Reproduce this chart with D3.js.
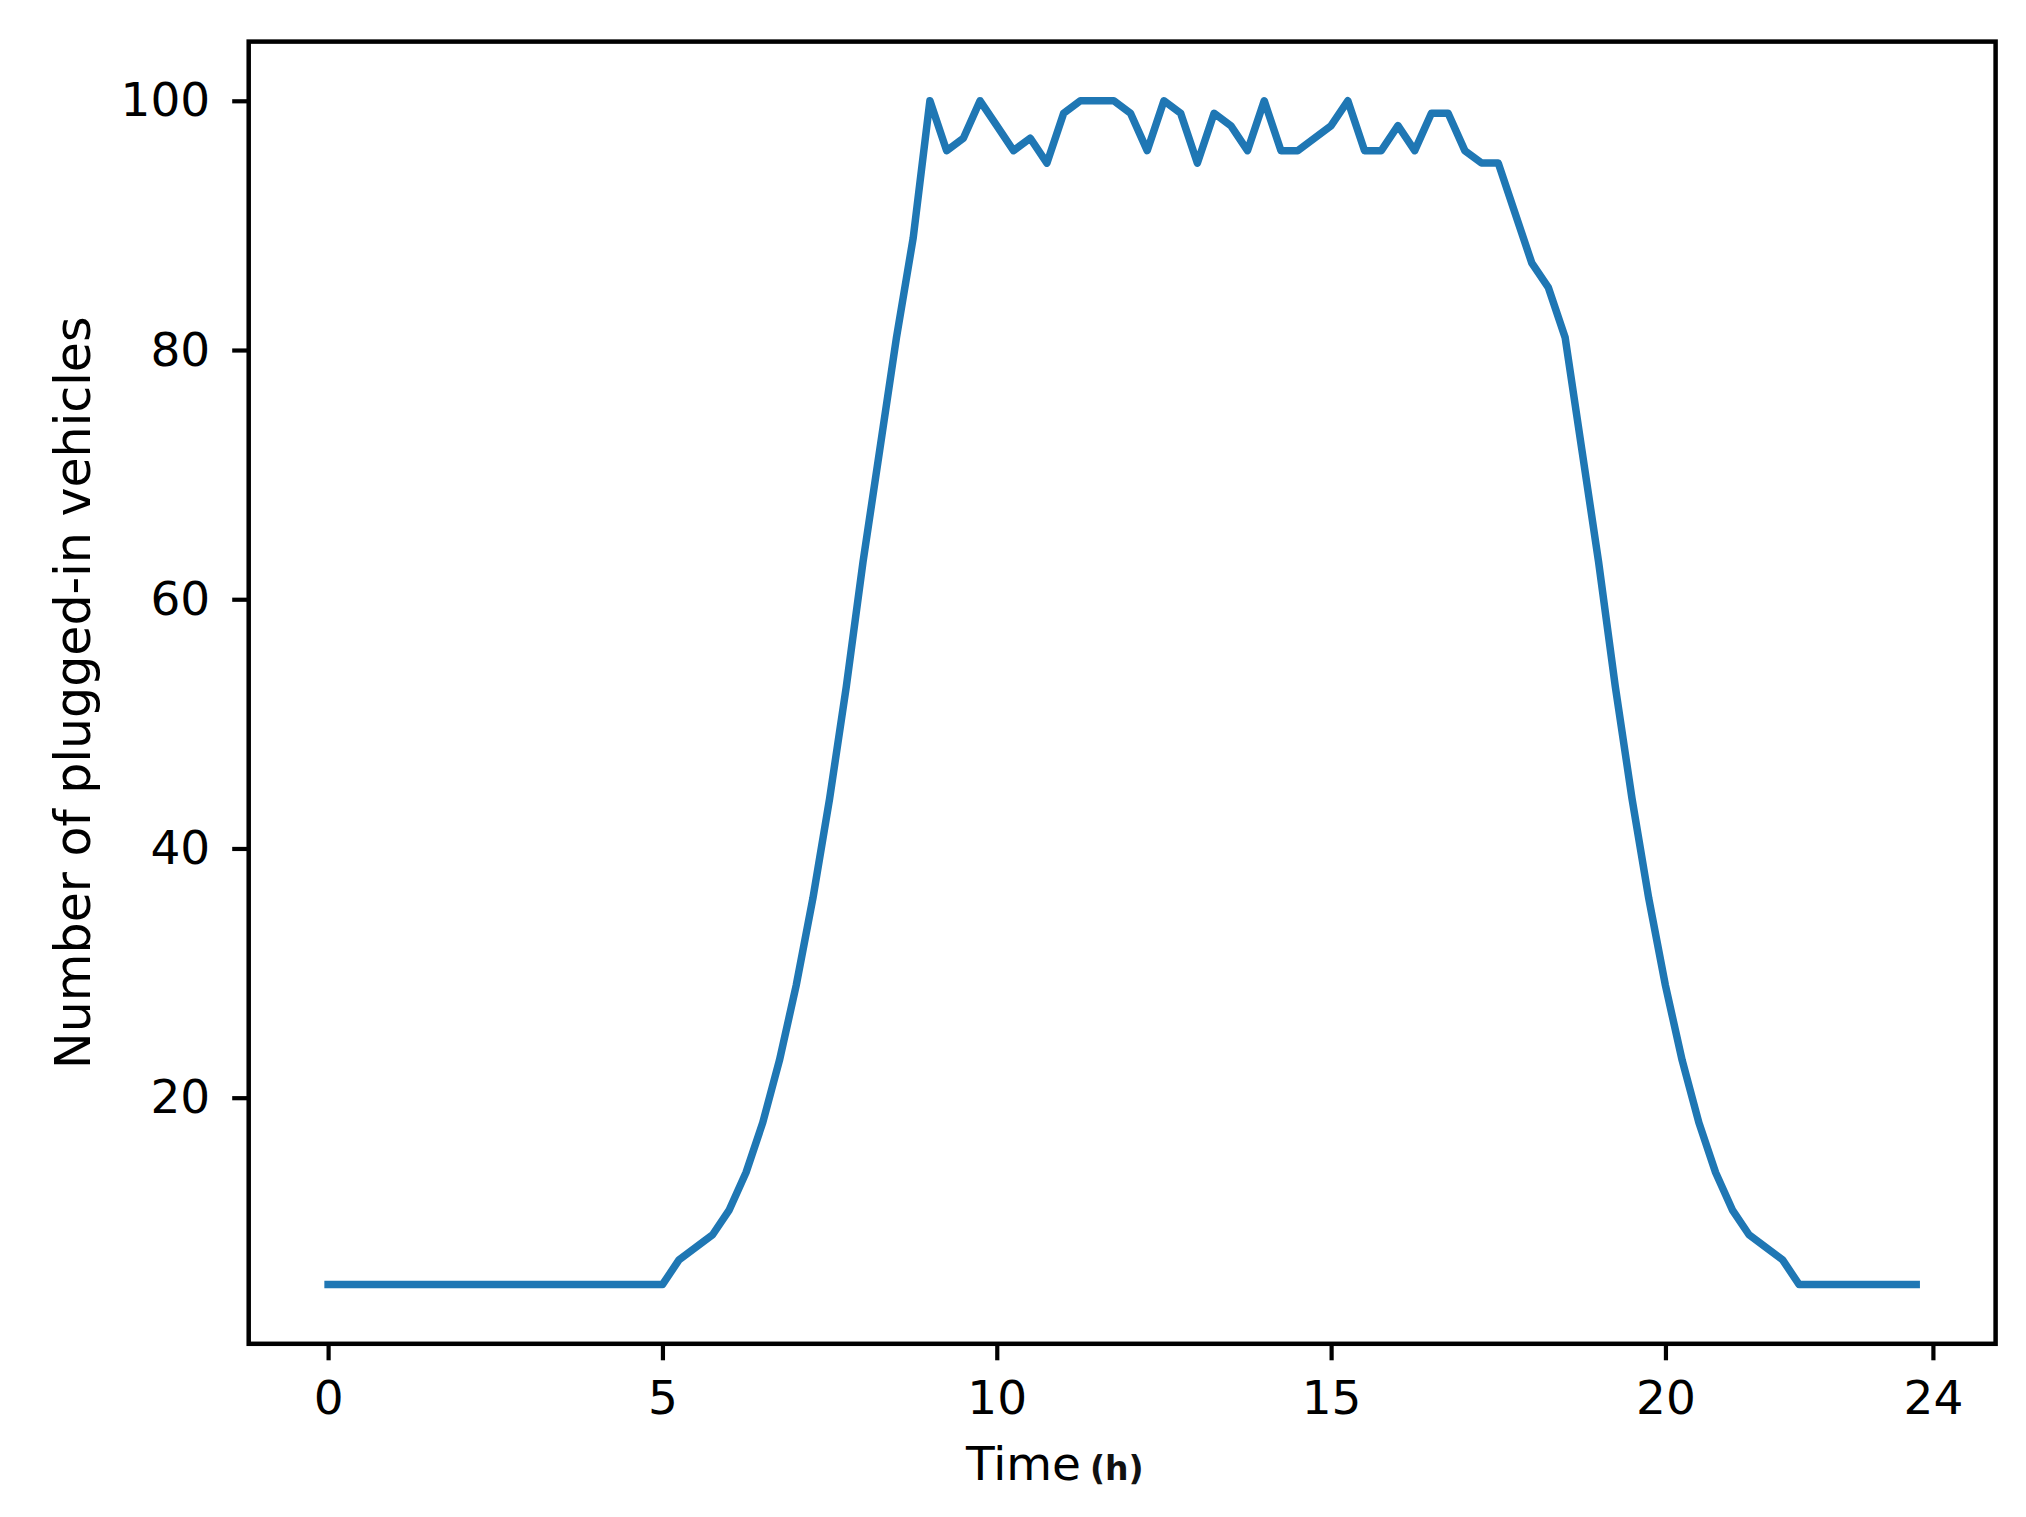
<!DOCTYPE html>
<html>
<head>
<meta charset="utf-8">
<script src="https://cdn.jsdelivr.net/npm/d3@7"></script>
<style>
  body { margin: 0; background: white; }
  svg text { font-family: "DejaVu Sans", sans-serif; }
</style>
</head>
<body>
<div id="svg-container"></div>
<script>
// DATA  (15 minute samples, 0h .. 23.75h)
var hours = [0, 0.25, 0.5, 0.75, 1, 1.25, 1.5, 1.75, 2, 2.25, 2.5, 2.75,
             3, 3.25, 3.5, 3.75, 4, 4.25, 4.5, 4.75, 5, 5.25, 5.5, 5.75,
             6, 6.25, 6.5, 6.75, 7, 7.25, 7.5, 7.75, 8, 8.25, 8.5, 8.75,
             9, 9.25, 9.5, 9.75, 10, 10.25, 10.5, 10.75, 11, 11.25, 11.5, 11.75,
             12, 12.25, 12.5, 12.75, 13, 13.25, 13.5, 13.75, 14, 14.25, 14.5, 14.75,
             15, 15.25, 15.5, 15.75, 16, 16.25, 16.5, 16.75, 17, 17.25, 17.5, 17.75,
             18, 18.25, 18.5, 18.75, 19, 19.25, 19.5, 19.75, 20, 20.25, 20.5, 20.75,
             21, 21.25, 21.5, 21.75, 22, 22.25, 22.5, 22.75, 23, 23.25, 23.5, 23.75];

var plugged = [5, 5, 5, 5, 5, 5, 5, 5, 5, 5, 5, 5,
               5, 5, 5, 5, 5, 5, 5, 5, 5, 7, 8, 9,
               11, 14, 18, 23, 29, 36, 44, 53, 63, 72, 81, 89,
               100, 96, 97, 100, 98, 96, 97, 95, 99, 100, 100, 100,
               99, 96, 100, 99, 95, 99, 98, 96, 100, 96, 96, 97,
               98, 100, 96, 96, 98, 96, 99, 99, 96, 95, 95, 91,
               87, 85, 81, 72, 63, 53, 44, 36, 29, 23, 18, 14,
               11, 9, 8, 7, 5, 5, 5, 5, 5, 5, 5, 5];

var xTicks = [0, 5, 10, 15, 20, 24];
var yTicks = [20, 40, 60, 80, 100];

var width = 2026, height = 1517;
var frame = {left: 248.7, right: 1995.6, top: 41.6, bottom: 1343.8};
var fontSize = 47;

// matplotlib style 5% margins around the data
function padded(ext) {
  var m = (ext[1] - ext[0]) * 0.05;
  return [ext[0] - m, ext[1] + m];
}

var x = d3.scaleLinear()
  .domain(padded(d3.extent(hours)))
  .range([frame.left, frame.right]);

var y = d3.scaleLinear()
  .domain(padded(d3.extent(plugged)))
  .range([frame.bottom, frame.top]);

var svg = d3.select("#svg-container")
  .append("svg")
  .attr("width", width)
  .attr("height", height);

var data = hours.map(function(h, i) { return {t: h, v: plugged[i]}; });

var line = d3.line()
  .x(function(d) { return x(d.t); })
  .y(function(d) { return y(d.v); });

svg.append("path")
  .datum(data)
  .attr("d", line)
  .attr("fill", "none")
  .attr("stroke", "#1f77b4")
  .attr("stroke-width", 7.5)
  .attr("stroke-linejoin", "round")
  .attr("stroke-linecap", "square");

// AXES
var xAxis = svg.append("g")
  .attr("transform", "translate(0," + frame.bottom + ")")
  .call(d3.axisBottom(x).tickValues(xTicks).tickSize(16.5).tickPadding(20.5));

var yAxis = svg.append("g")
  .attr("transform", "translate(" + frame.left + ",0)")
  .call(d3.axisLeft(y).tickValues(yTicks).tickSize(16.5).tickPadding(22));

[xAxis, yAxis].forEach(function(g) {
  g.select(".domain").remove();
  g.selectAll(".tick line").attr("stroke", "black").attr("stroke-width", 4.2);
  g.selectAll(".tick text")
    .attr("fill", "black")
    .style("font-size", fontSize + "px")
    .style("font-family", "DejaVu Sans, sans-serif");
});

// frame
svg.append("rect")
  .attr("x", frame.left)
  .attr("y", frame.top)
  .attr("width", frame.right - frame.left)
  .attr("height", frame.bottom - frame.top)
  .attr("fill", "none")
  .attr("stroke", "black")
  .attr("stroke-width", 4.5);

// LABELS
svg.append("text")
  .attr("transform", "translate(90," + ((frame.top + frame.bottom) / 2) + ") rotate(-90)")
  .attr("text-anchor", "middle")
  .style("font-size", "49px")
  .text("Number of plugged-in vehicles");

var xl = svg.append("text")
  .attr("x", 966)
  .attr("y", 1480)
  .style("font-size", fontSize + "px")
  .text("Time");

xl.append("tspan")
  .attr("dx", 9)
  .style("font-size", "33px")
  .style("font-weight", "bold")
  .attr("fill", "#111")
  .text("(h)");
</script>
</body>
</html>
